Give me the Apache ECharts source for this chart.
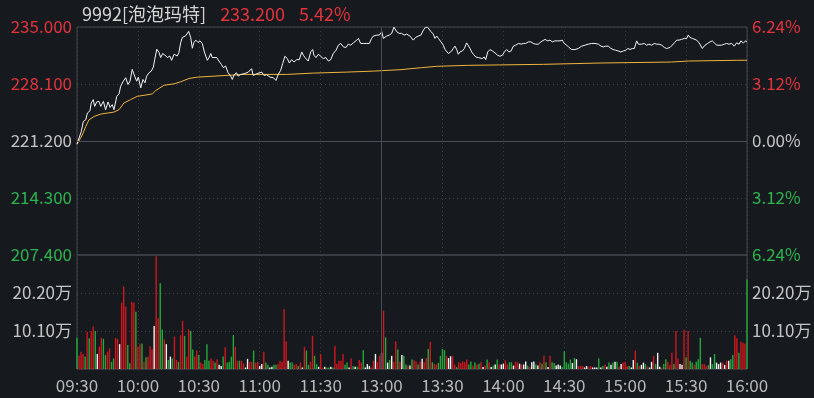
<!DOCTYPE html>
<html>
<head>
<meta charset="utf-8">
<script src="https://cdn.jsdelivr.net/npm/echarts@6/dist/echarts.min.js"></script>
<style>
html, body { margin: 0; padding: 0; background: #16191e; }
#chart { width: 814px; height: 398px; }
</style>
</head>
<body>
<div id="chart"></div>
<script>
// 9992 泡泡玛特 intraday
const stockName = '9992[泡泡玛特]';
const lastPrice = '233.200';
const lastPct = '5.42%';
const prevClose = 221.2;
const timeLabels = ['09:30', '10:00', '10:30', '11:00', '11:30', '13:00', '13:30', '14:00', '14:30', '15:00', '15:30', '16:00'];

// minutes since 09:30 (lunch removed) / price
const priceMin = [0, 2.1, 3.1, 4.3, 5.1, 6.4, 7.0, 8.0, 8.7, 9.7, 10.8, 11.7, 13.0, 14.1, 15.3, 16.3, 17.4, 18.2, 19.6, 20.7,
  21.5, 22.8, 24.0, 25.1, 26.1, 27.2, 28.4, 29.4, 30.2, 31.4, 32.5, 33.5, 34.3, 35.5, 36.6, 37.6, 38.3, 39.3, 40.4, 41.2,
  42.2, 43.2, 44.5, 45.7, 46.6, 47.8, 48.6, 49.4, 50.2, 51.1, 51.9, 52.7, 53.5, 54.3, 55.0, 56.0, 56.8, 57.6, 58.5, 59.6,
  60.6, 61.7, 62.6, 63.4, 64.2, 65.0, 65.9, 66.6, 67.5, 68.8, 69.9, 71.1, 72.1, 73.2, 74.4, 75.7, 76.5, 77.3, 78.5, 79.4,
  80.6, 82.3, 84.4, 86.0, 86.8, 88.5, 89.3, 91.0, 92.1, 93.4, 95.1, 96.7, 98.0, 99.1, 100.3, 101.3, 102.4, 103.6, 104.6, 105.7,
  106.9, 108.2, 109.5, 110.7, 111.5, 112.3, 113.1, 113.9, 115.1, 116.1, 116.7, 117.7, 118.9, 120.0, 121.3, 122.6, 123.8, 125.0, 126.2, 127.6,
  128.7, 129.9, 131.2, 132.5, 133.6, 134.8, 136.1, 137.4, 138.6, 139.7, 141.0, 142.7, 144.0, 145.1, 145.9, 147.6, 148.9, 150.1, 150.9, 152.5,
  153.8, 155.0, 156.1, 157.5, 158.7, 159.9, 161.1, 162.4, 164.0, 165.6, 166.8, 168.1, 169.4, 170.6, 171.7, 172.7, 173.4, 174.4, 175.5, 176.3,
  177.2, 178.0, 179.3, 180.4, 181.3, 182.1, 182.9, 183.7, 184.6, 185.3, 186.2, 187.0, 187.8, 188.6, 189.8, 190.8, 191.9, 192.7, 193.6, 194.4,
  195.2, 196.4, 197.7, 198.5, 199.6, 200.6, 201.3, 202.3, 203.4, 204.6, 205.9, 207.2, 208.3, 209.5, 210.5, 211.6, 212.8, 213.8, 214.9, 216.1,
  217.4, 218.7, 219.8, 221.0, 222.3, 223.6, 224.7, 225.9, 227.2, 228.5, 229.2, 230.5, 231.8, 233.0, 234.1, 235.4, 236.8, 237.9, 239.0, 240.0,
  241.2, 242.3, 243.7, 245.3, 246.9, 248.6, 250.2, 251.8, 253.5, 255.1, 256.8, 258.1, 259.2, 260.4, 261.7, 263.0, 264.1, 265.3, 266.6, 267.9,
  269.1, 270.3, 271.3, 272.4, 273.5, 274.5, 275.7, 276.5, 277.3, 278.1, 279.4, 280.6, 281.7, 283.1, 284.3, 285.5, 286.7, 288.0, 289.3, 290.4,
  291.2, 292.1, 293.2, 294.2, 295.4, 296.5, 297.8, 299.1, 300.3, 301.1, 301.9, 303.1, 304.0, 305.2, 306.4, 307.3, 308.0, 309.3, 310.6, 311.8,
  312.9, 313.9, 315.1, 316.2, 317.5, 318.8, 320.0, 321.1, 322.5, 323.7, 324.9, 326.1, 327.0, 328.2, 329.4, 330];
const priceVal = [220.83, 222.34, 223.56, 223.76, 224.58, 224.86, 225.80, 226.21, 225.39, 225.93, 226.00, 225.39, 226.00, 224.99, 225.93, 225.27, 225.60, 224.99, 226.61, 226.90,
  227.83, 228.44, 228.86, 228.04, 228.44, 229.87, 229.05, 228.44, 228.93, 227.63, 228.65, 228.25, 229.05, 229.47, 229.66, 230.15, 231.09, 232.31, 231.91, 231.30,
  231.79, 231.62, 231.30, 231.49, 230.97, 231.70, 231.91, 231.49, 231.91, 233.13, 233.74, 233.53, 233.93, 234.14, 234.47, 233.74, 232.43, 233.13, 233.41, 233.13,
  233.32, 233.01, 232.10, 231.49, 230.97, 231.30, 231.79, 231.30, 231.09, 231.30, 230.88, 230.48, 230.08, 230.27, 229.47, 229.05, 228.65, 229.17, 229.47, 229.05,
  229.26, 229.34, 229.54, 229.95, 229.14, 229.34, 229.54, 229.54, 229.14, 229.22, 228.93, 228.86, 228.53, 229.26, 229.75, 230.57, 231.46, 231.18, 230.64, 231.05,
  230.76, 231.05, 231.05, 231.98, 231.58, 231.30, 231.46, 230.88, 231.98, 232.27, 231.58, 231.30, 231.70, 231.46, 231.18, 231.30, 230.88, 231.05, 231.79, 232.19,
  232.80, 233.01, 232.59, 232.52, 232.92, 232.80, 233.08, 233.32, 233.62, 233.01, 233.01, 233.01, 233.01, 233.62, 233.90, 234.02, 234.02, 234.42, 233.62, 233.90,
  234.02, 234.23, 234.98, 234.42, 234.23, 234.23, 234.02, 234.14, 233.90, 233.41, 233.74, 233.90, 234.02, 234.63, 234.98, 234.96, 234.98, 234.42, 234.14, 233.62,
  233.90, 233.62, 233.20, 232.80, 232.27, 232.10, 231.79, 231.58, 232.10, 232.40, 232.68, 232.27, 231.70, 231.98, 232.10, 232.40, 233.08, 232.92, 232.40, 231.98,
  231.70, 231.37, 231.30, 231.46, 231.18, 231.37, 231.05, 231.98, 232.27, 232.10, 231.86, 231.58, 231.46, 231.58, 231.98, 232.27, 231.98, 232.10, 232.68, 232.80,
  233.01, 232.92, 233.01, 233.01, 233.20, 233.20, 233.01, 232.92, 232.92, 233.20, 233.32, 233.50, 233.32, 233.41, 233.20, 233.32, 233.32, 233.32, 233.41, 233.01,
  232.80, 232.52, 232.27, 232.27, 232.40, 232.68, 232.80, 232.92, 233.01, 233.01, 232.92, 232.68, 232.59, 232.68, 232.68, 232.40, 232.27, 232.19, 232.10, 231.98,
  232.10, 232.19, 232.40, 232.27, 232.40, 232.40, 233.32, 232.92, 233.08, 232.92, 233.01, 232.80, 232.92, 232.80, 233.01, 232.92, 232.92, 232.80, 232.52, 232.40,
  232.19, 232.52, 232.80, 233.08, 233.41, 233.41, 233.50, 233.62, 233.62, 234.02, 233.74, 233.62, 233.74, 233.41, 233.08, 232.92, 232.40, 232.80, 233.01, 233.20,
  233.32, 233.08, 232.80, 232.80, 232.80, 232.92, 233.01, 232.92, 233.01, 232.68, 233.08, 232.92, 233.32, 233.08, 233.32, 233.20];

// average price line
const avgMin = [0, 2.6, 4.3, 5.9, 8.4, 11.7, 14.9, 18.2, 20.7, 23.1, 26.4, 29.7, 33.0, 37.1, 38.8, 42.9, 47.8, 51.1, 55.2, 59.3,
  67.5, 75.7, 82.3, 103.3, 116.4, 132.8, 145.9, 159.1, 169.8, 177.2, 192.7, 229.7, 245.3, 257.6, 292.9, 301.1, 325.4, 330];
const avgVal = [220.80, 221.93, 222.95, 223.76, 224.17, 224.46, 224.58, 224.70, 224.99, 225.80, 226.21, 226.61, 226.73, 226.90, 227.31, 227.95, 228.12, 228.37, 228.77, 228.93,
  229.05, 229.17, 229.26, 229.26, 229.42, 229.54, 229.66, 229.83, 230.08, 230.24, 230.36, 230.48, 230.57, 230.64, 230.76, 230.88, 230.97, 230.97];

// volume per minute, 万股
const volume = [
  8.3, 3.5, 4.6, 4.0, 3.3, 9.9, 8.2, 10.1, 11.3, 10.1, 4.0, 5.9, 8.3, 8.0, 3.7, 4.6, 5.5, 1.9, 2.8, 8.2,
  8.0, 6.6, 17.6, 21.9, 16.6, 6.4, 1.5, 17.9, 17.6, 15.2, 5.9, 6.6, 6.8, 1.9, 3.1, 3.3, 6.1, 5.2, 11.4, 30.0,
  13.5, 22.8, 10.5, 7.9, 6.6, 2.4, 3.3, 2.8, 8.6, 2.4, 1.9, 9.0, 12.8, 8.8, 3.3, 10.5, 10.1, 5.2, 3.3, 4.9,
  3.7, 1.7, 1.3, 2.4, 6.6, 2.2, 2.8, 2.2, 1.7, 2.6, 1.1, 0.8, 3.3, 5.8, 1.7, 1.9, 3.3, 9.0, 5.9, 2.2,
  2.2, 2.2, 1.5,
  0.4, 2.7, 1.9, 1.9, 4.9, 1.7, 1.9, 0.8, 1.3, 4.6, 1.7, 1.1, 0.4, 0.6, 1.1, 1.1, 1.3, 2.2, 1.9, 15.9,
  7.3, 2.2, 1.7, 1.7, 1.1, 1.3, 0.8, 1.7, 0.4, 5.9, 4.9, 1.1, 1.9, 8.8, 3.5, 1.3, 0.6, 4.0, 0.4, 0.6,
  0.4, 0.4, 0.6, 0.4, 6.2, 1.3, 2.2, 2.2, 4.0, 1.1, 1.7, 0.4, 2.8, 0.8, 0.6, 0.6, 2.4, 1.7, 5.0, 0.4,
  1.3, 0.8, 0.4, 2.2, 4.0, 1.9, 3.5, 4.3, 15.5, 8.4, 1.7, 2.4, 3.5, 1.9, 7.3, 5.2, 1.9, 3.7, 3.5,
  1.2, 0.9, 0.9, 2.5, 2.3, 2.0, 1.2, 2.0, 2.7, 1.8, 2.9, 5.3, 7.2, 1.8, 1.4, 1.2, 1.6, 3.5, 5.3, 5.0,
  3.5, 2.9, 3.4, 3.4, 1.2, 0.5, 1.8, 1.6, 2.0, 1.8, 2.5, 1.2, 2.0, 0.9, 1.8, 1.2, 1.4, 1.8, 0.5, 0.9,
  2.5, 1.8, 0.5, 0.9, 1.2, 2.5, 1.2, 1.2, 1.4, 2.3, 1.2, 1.8, 1.8, 0.9, 2.0, 1.8, 1.4, 1.2, 1.2, 2.0,
  0.9, 0.5, 1.8, 2.0, 1.2, 0.9, 1.8, 1.4, 3.5, 1.8, 0.5, 3.5, 1.8, 1.6, 0.9, 1.2, 0.9, 0.5, 4.7, 1.8,
  1.4, 2.5, 1.6, 2.9,
  2.6, 0.8, 0.8, 0.8, 0.4, 0.8, 0.6, 0.8, 0.4, 0.4, 0.4, 2.8, 0.4, 0.8, 1.1, 0.6, 1.7, 1.1, 1.7, 1.9,
  1.9, 0.6, 1.3, 1.7, 1.9, 0.8, 0.8, 0.4, 2.4, 4.9, 1.7, 0.8, 1.1, 1.7, 1.3, 0.6, 0.4, 1.9, 3.5, 1.3,
  4.3, 0.6, 0.4, 1.3, 2.6, 1.9, 1.1, 4.3, 1.3, 10.1, 2.8, 1.3, 1.1, 10.4, 3.1, 10.1, 2.2, 1.7, 1.1, 1.9,
  2.6, 8.3, 1.3, 1.3, 0.8, 1.1, 3.1, 1.3, 4.0, 1.7, 1.3, 1.7, 1.7, 1.1, 2.2, 2.2, 2.6, 3.7, 9.0, 8.2,
  4.3, 7.3, 7.0, 6.8, 23.8
];
// r = up, g = down, w = flat
const volDir = (
  'grrrgrgrrgwrrggrrggrrwrrrggrrgrrgrgrrrwrrggrwgwgrrgrrgrrggrrgrrgggrrgrwwgrggggrrgrr' +
  'wwrrgrrwwrggwwggrrrrrwggrrgrwrggrrggwrrwggwgrrrrrggwrgwgrrgwwwrrwrrwrgwgwrrgrwg' +
  'grwgrrgrwrrgrgrrggggrwwrrgrrrrrggrgrgrwrgrwgwgrwwrrggwrrwrwwgrwwgwrgrgwrggwwwgggggwg' +
  'wrrrwwrrwwwgwgrwgwgwgrwrrrgwwrgrwwgrwwrgwwrggrrrgrrwwrgrggrgggrrrgwggwwwrwrwggrrgrrrg'
).split('');

const RED = '#e3343c', GREEN = '#2db44f', GRAY = '#c4c4c4';
const FONT = "'Noto Sans CJK SC', 'Noto Sans', sans-serif";
const barColor = { r: '#d0161e', g: '#22a83a', w: '#f2f2f2' };

const priceData = priceMin.map((m, i) => [m, +(priceVal[i] - prevClose).toFixed(3)]);
const avgData = avgMin.map((m, i) => [m, +(avgVal[i] - prevClose).toFixed(3)]);
const volData = volume.map((v, i) => [i, v]);

const sideColor = v => (v > 0.001 ? RED : (v < -0.001 ? GREEN : GRAY));
const dotted = { color: '#3d4047', type: [1, 3], width: 1 };

const chart = echarts.init(document.getElementById('chart'));
chart.setOption({
  animation: false,
  backgroundColor: '#16191e',
  textStyle: { fontFamily: FONT },
  title: {
    left: 77,
    top: 0,
    text: '{n|' + stockName + '}{p|' + lastPrice + '}{p|' + lastPct + '}',
    textStyle: {
      fontWeight: 'normal',
      rich: {
        n: { color: '#d4d4d4', fontSize: 18, fontWeight: 'normal', fontFamily: FONT },
        p: { color: RED, fontSize: 18, fontWeight: 'normal', fontFamily: FONT, padding: [0, 0, 0, 14] }
      }
    }
  },
  grid: [
    { left: 77, right: 67, top: 27, height: 228, show: true, borderColor: '#45484f', borderWidth: 1, containLabel: false, outerBoundsMode: 'none' },
    { left: 77, right: 67, top: 255, height: 114, show: true, borderColor: '#45484f', borderWidth: 1, containLabel: false, outerBoundsMode: 'none' }
  ],
  xAxis: [
    {
      type: 'value', gridIndex: 0, min: 0, max: 330, interval: 30,
      axisLine: { show: false }, axisTick: { show: false }, axisLabel: { show: false },
      splitLine: { show: true, lineStyle: dotted }
    },
    {
      type: 'value', gridIndex: 1, min: 0, max: 330, interval: 30,
      axisLine: { show: false }, axisTick: { show: false },
      axisLabel: {
        color: '#b8b8b8', fontSize: 17, margin: 8, fontFamily: FONT,
        formatter: v => timeLabels[Math.round(v / 30)] || ''
      },
      splitLine: { show: true, lineStyle: dotted }
    }
  ],
  yAxis: [
    {
      type: 'value', gridIndex: 0, min: -13.8, max: 13.8, interval: 6.9,
      axisLine: { show: false }, axisTick: { show: false },
      axisLabel: {
        fontSize: 17, margin: 5, fontFamily: FONT,
        color: v => sideColor(+v),
        formatter: v => (prevClose + v).toFixed(3)
      },
      splitLine: { show: true, lineStyle: dotted }
    },
    {
      type: 'value', gridIndex: 0, position: 'right', min: -13.8, max: 13.8, interval: 6.9,
      axisLine: { show: false }, axisTick: { show: false },
      axisLabel: {
        fontSize: 17, margin: 5, fontFamily: FONT,
        color: v => sideColor(+v),
        formatter: v => (Math.abs(v) / prevClose * 100).toFixed(2) + '%'
      },
      splitLine: { show: false }
    },
    {
      type: 'value', gridIndex: 1, min: 0, max: 30.3, interval: 10.1,
      axisLine: { show: false }, axisTick: { show: false },
      axisLabel: {
        fontSize: 17, margin: 5, color: GRAY, fontFamily: FONT,
        formatter: v => (v > 1 && v < 30) ? v.toFixed(2) + '万' : ''
      },
      splitLine: { show: true, lineStyle: dotted }
    },
    {
      type: 'value', gridIndex: 1, position: 'right', min: 0, max: 30.3, interval: 10.1,
      axisLine: { show: false }, axisTick: { show: false },
      axisLabel: {
        fontSize: 17, margin: 5, color: GRAY, fontFamily: FONT,
        formatter: v => (v > 1 && v < 30) ? v.toFixed(2) + '万' : ''
      },
      splitLine: { show: false }
    }
  ],
  series: [
    {
      type: 'line', xAxisIndex: 0, yAxisIndex: 0, data: avgData,
      symbol: 'none', lineStyle: { color: '#f0b43c', width: 1 }, z: 3
    },
    {
      type: 'line', xAxisIndex: 0, yAxisIndex: 0, data: priceData,
      symbol: 'none', lineStyle: { color: '#f4f4f4', width: 1 }, z: 4,
      markLine: {
        silent: true, symbol: 'none', label: { show: false },
        lineStyle: { color: '#4a4d55', type: 'solid', width: 1 },
        data: [{ yAxis: 0 }, { xAxis: 150 }]
      }
    },
    {
      type: 'bar', xAxisIndex: 1, yAxisIndex: 2, data: volData, barWidth: 1.4,
      itemStyle: { color: p => barColor[volDir[p.dataIndex]] || barColor.w },
      markLine: {
        silent: true, symbol: 'none', label: { show: false },
        lineStyle: { color: '#4a4d55', type: 'solid', width: 1 },
        data: [{ xAxis: 150 }]
      }
    }
  ]
});
</script>
</body>
</html>
